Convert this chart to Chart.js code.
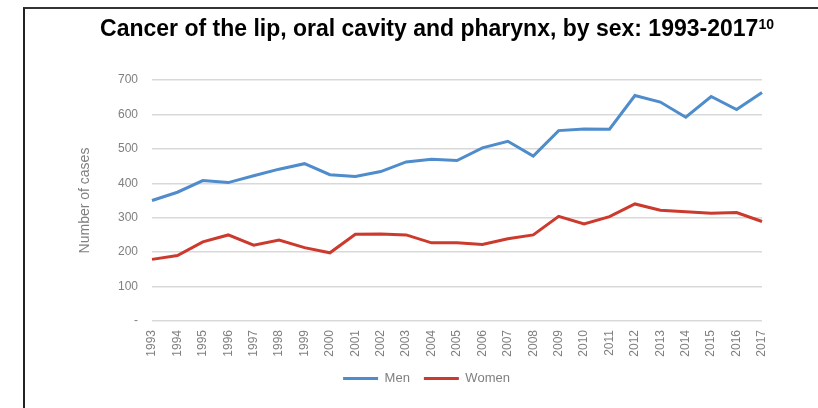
<!DOCTYPE html>
<html>
<head>
<meta charset="utf-8">
<script src="https://cdn.jsdelivr.net/npm/chart.js@4.4.1/dist/chart.umd.min.js"></script>
<style>
  html, body { margin: 0; padding: 0; background: #fff; }
  #frame {
    position: absolute; left: 23px; top: 7px; width: 795px; height: 401px;
    border-top: 2px solid #333; border-left: 2px solid #222;
  }
  #title {
    position: absolute; left: 40px; top: 15px; width: 794px; line-height: 26px;
    text-align: center; font: bold 23px "Liberation Sans", Arial, sans-serif; color: #000;
  }
  #title sup { font-size: 14px; vertical-align: 7px; line-height: 0; }
  #wrap { position: absolute; left: 0; top: 0; width: 818px; height: 408px; }
</style>
</head>
<body>
<div id="frame"></div>
<div id="wrap"><canvas id="casesChart"></canvas></div>
<div id="title">Cancer of the lip, oral cavity and pharynx, by sex: 1993-2017<sup>10</sup></div>
<script>
// Anos e casos por sexo
const years = ['1993','1994','1995','1996','1997','1998','1999','2000','2001','2002','2003','2004','2005',
  '2006','2007','2008','2009','2010','2011','2012','2013','2014','2015','2016','2017'];
const men = [350, 374, 408, 402, 422, 441, 457, 425, 420, 434, 462, 470, 466,
  503, 522, 479, 553, 558, 557, 655, 636, 592, 652, 614, 664];
const women = [179, 190, 230, 250, 220, 235, 213, 198, 252, 253, 250, 227, 227,
  222, 239, 250, 304, 282, 303, 340, 322, 317, 313, 315, 289];
const yTicks = [0, 100, 200, 300, 400, 500, 600, 700];

const gray = '#7f7f7f';

new Chart(document.getElementById('casesChart'), {
    type: 'line',
    data: {
        labels: years,
        datasets: [
            { label: 'Men', data: men, borderColor: '#4f8ccb', backgroundColor: '#4f8ccb',
              borderWidth: 3, pointRadius: 0, tension: 0 },
            { label: 'Women', data: women, borderColor: '#cc3a2e', backgroundColor: '#cc3a2e',
              borderWidth: 3, pointRadius: 0, tension: 0 }
        ]
    },
    options: {
        responsive: true,
        maintainAspectRatio: false,
        animation: false,
        layout: { padding: { left: 91, right: 56, top: 80, bottom: 13 } },
        plugins: {
            tooltip: { enabled: false },
            legend: {
                position: 'bottom',
                labels: {
                    usePointStyle: true, pointStyle: 'line', pointStyleWidth: 35,
                    padding: 14, color: gray,
                    font: { family: 'Liberation Sans', size: 13 }
                }
            }
        },
        scales: {
            x: {
                offset: false,
                grid: { display: false, drawTicks: false },
                border: { display: false },
                ticks: { minRotation: 90, maxRotation: 90, autoSkip: false, padding: 9,
                         color: gray, font: { family: 'Liberation Sans', size: 12 } },
                afterFit: s => { s.height = 37; }
            },
            y: {
                min: 0, max: 700,
                afterBuildTicks: s => { s.ticks = yTicks.map(v => ({ value: v })); },
                grid: { color: '#d9d9d9', lineWidth: 1.5, drawTicks: false },
                border: { display: false },
                ticks: { padding: 14, color: gray, font: { family: 'Liberation Sans', size: 12 },
                         callback: v => v === 0 ? '-' : v },
                title: { display: true, text: 'Number of cases', color: gray,
                         font: { family: 'Liberation Sans', size: 14 }, padding: { top: -14, bottom: 0 } },
                afterFit: s => { s.width = 61; }
            }
        }
    }
});
</script>
</body>
</html>
